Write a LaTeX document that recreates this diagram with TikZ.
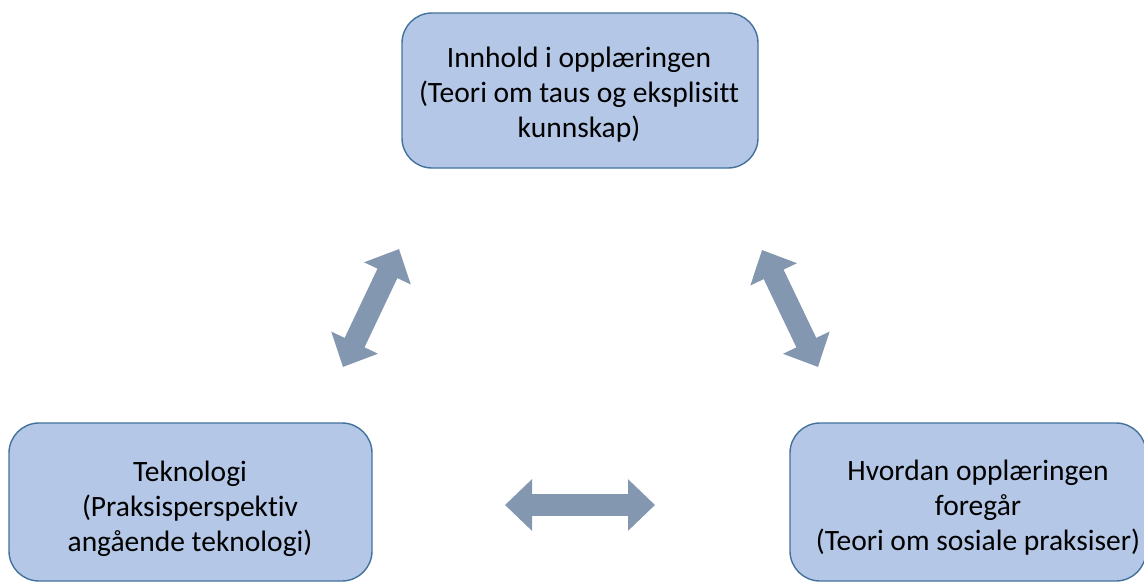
\documentclass[tikz,border=0pt]{standalone}
\usepackage{fontspec}
\setmainfont{Carlito}[Ligatures=CommonOff]
\usetikzlibrary{arrows.meta}
\definecolor{boxfill}{HTML}{B4C7E7}
\definecolor{boxline}{HTML}{41719C}
\definecolor{arrowc}{HTML}{8497B0}
\tikzset{
  box/.style={draw=boxline, line width=1.4pt, fill=boxfill, rounded corners=30pt,
    inner sep=0pt},
  boxtext/.style={align=center, inner sep=0pt, font=\fontsize{29.5}{35}\selectfont, text=black},
  bigarrow/.style={draw=arrowc, line width=22pt,
    {Triangle[length=27pt,width=50pt]}-{Triangle[length=27pt,width=50pt]}},
}
\begin{document}
\begin{tikzpicture}[x=1pt,y=-1pt]
\useasboundingbox (0,0) rectangle (1144,582);
\node[box, minimum width=356pt, minimum height=155pt] (top) at (580,90.5) {};
\node[boxtext] (toptext) at (579,95)
  {Innhold i opplæringen\\(Teori om taus og eksplisitt\\kunnskap)};
\node[box, minimum width=363pt, minimum height=158pt] (left) at (190.5,502) {};
\node[boxtext] (lefttext) at (190,509)
  {Teknologi\\(Praksisperspektiv\\angående teknologi)};
\node[box, minimum width=356pt, minimum height=158pt] (right) at (968,502) {};
\node[boxtext] (righttext) at (978,508)
  {Hvordan opplæringen\\foregår\\(Teori om sosiale praksiser)};
\coordinate (l1) at (343,367);
\coordinate (l2) at (399,249);
\coordinate (r1) at (762,250);
\coordinate (r2) at (818,367);
\coordinate (b1) at (505,505);
\coordinate (b2) at (655,505);
\draw[bigarrow] (l1) -- (l2);
\draw[bigarrow] (r1) -- (r2);
\draw[bigarrow] (b1) -- (b2);
\end{tikzpicture}
\end{document}
